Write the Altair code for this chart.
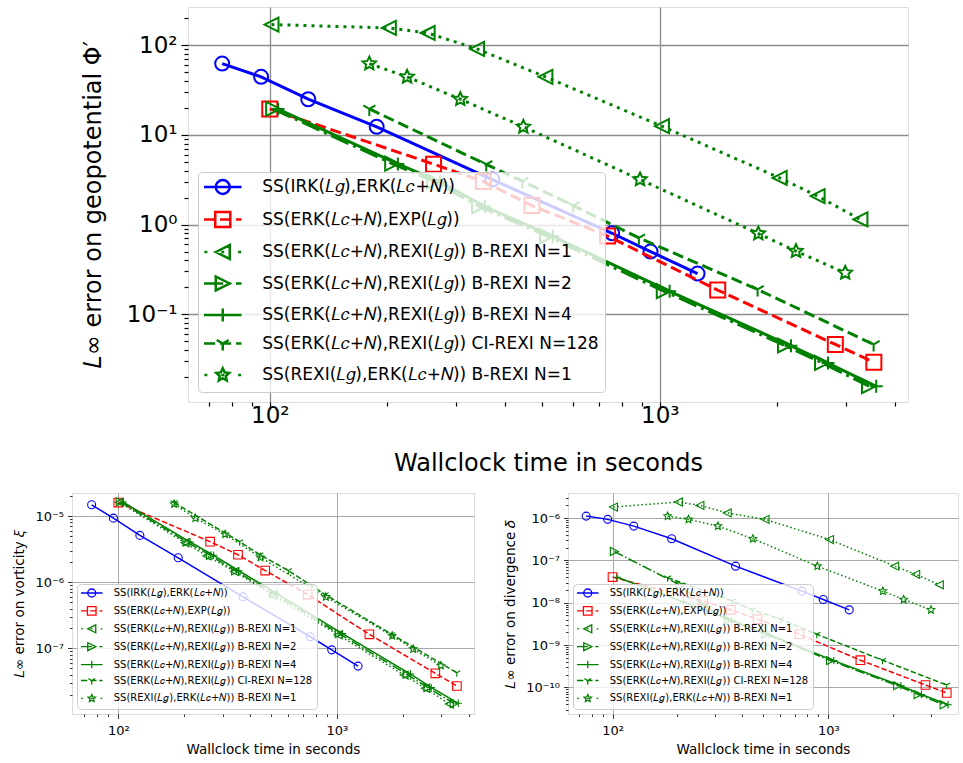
import math
import altair as alt
import pandas as pd

# ---------------- data ----------------
SERIES = [
    "SS(IRK(𝐿𝑔),ERK(𝐿𝑐+𝑁))",
    "SS(ERK(𝐿𝑐+𝑁),EXP(𝐿𝑔))",
    "SS(ERK(𝐿𝑐+𝑁),REXI(𝐿𝑔)) B-REXI N=1",
    "SS(ERK(𝐿𝑐+𝑁),REXI(𝐿𝑔)) B-REXI N=2",
    "SS(ERK(𝐿𝑐+𝑁),REXI(𝐿𝑔)) B-REXI N=4",
    "SS(ERK(𝐿𝑐+𝑁),REXI(𝐿𝑔)) CI-REXI N=128",
    "SS(REXI(𝐿𝑔),ERK(𝐿𝑐+𝑁)) B-REXI N=1",
]

# wallclock times (s)
T_IRK = [75.5, 95, 125.5, 188, 372, 755, 947, 1250]
T_EXP = [100, 263, 353, 470, 735, 1408, 2820, 3540]
T_N1 = [101, 202, 254, 340, 509, 1013, 2030, 2540, 3270]
T_N2 = [102, 206, 264, 344, 514, 1024, 2095, 2607, 3440]
T_N4 = [105, 213, 273, 356, 532, 1060, 2170, 2700, 3590]
T_CI = [180, 359, 444, 600, 884, 1782, 3535]
T_REXI = [180, 225, 308, 447, 890, 1790, 2235, 2990]

# geopotential errors
PHI_IRK = [62.4, 44.4, 25.0, 12.3, 3.18, 0.80, 0.50, 0.284]
PHI_EXP = [19.5, 4.72, 3.02, 1.63, 0.745, 0.186, 0.046, 0.0292]
PHI_N1 = [170, 156, 137, 91, 44.4, 12.5, 3.31, 2.08, 1.14]
PHI_N2 = [19.5, 4.79, 3.02, 1.60, 0.743, 0.181, 0.0448, 0.0287, 0.0158]
PHI_N4 = [19.4, 4.75, 3.0, 1.59, 0.74, 0.180, 0.0445, 0.0285, 0.0157]
PHI_CI = [19.5, 4.68, 3.05, 1.63, 0.711, 0.189, 0.046]
PHI_REXI = [62.4, 44.4, 25.0, 12.3, 3.18, 0.794, 0.505, 0.289]

# vorticity errors
VOR_IRK = [1.48e-5, 9.3e-6, 5.1e-6, 2.34e-6, 6.0e-7, 1.5e-7, 9.5e-8, 5.4e-8]
VOR_EXP = [1.6e-5, 4.1e-6, 2.6e-6, 1.5e-6, 6.5e-7, 1.63e-7, 4.2e-8, 2.7e-8]
VOR_N1 = [1.62e-5, 3.95e-6, 2.5e-6, 1.45e-6, 6.4e-7, 1.6e-7, 3.95e-8, 2.5e-8, 1.44e-8]
VOR_N2 = [1.64e-5, 4.05e-6, 2.54e-6, 1.48e-6, 6.7e-7, 1.67e-7, 4.06e-8, 2.55e-8, 1.47e-8]
VOR_N4 = [1.63e-5, 4.05e-6, 2.55e-6, 1.49e-6, 6.7e-7, 1.67e-7, 4.1e-8, 2.57e-8, 1.48e-8]
VOR_CI = [1.6e-5, 4.1e-6, 2.6e-6, 1.5e-6, 6.5e-7, 1.63e-7, 4.3e-8]
VOR_REXI = [1.52e-5, 9.3e-6, 5.3e-6, 2.37e-6, 6.0e-7, 1.55e-7, 9.8e-8, 5.5e-8]

# divergence errors
DIV_IRK = [1.11e-6, 9.3e-7, 6.45e-7, 3.24e-7, 7.3e-8, 1.88e-8, 1.19e-8, 6.8e-9]
DIV_EXP = [4.03e-8, 1.1e-8, 6.8e-9, 4.1e-9, 1.8e-9, 4.4e-10, 1.14e-10, 7.4e-11]
DIV_N1 = [1.82e-6, 2.39e-6, 1.99e-6, 1.32e-6, 9.3e-7, 3.1e-7, 7.3e-8, 4.7e-8, 2.65e-8]
DIV_N2 = [1.62e-7, 2.6e-8, 8.5e-9, 3.9e-9, 1.8e-9, 4.3e-10, 1.1e-10, 6.8e-11, 3.9e-11]
DIV_N4 = [4.0e-8, 1.05e-8, 6.5e-9, 3.8e-9, 1.75e-9, 4.3e-10, 1.1e-10, 6.8e-11, 3.9e-11]
DIV_CI = [3.9e-8, 1.1e-8, 6.8e-9, 4.1e-9, 1.8e-9, 4.4e-10, 1.14e-10]
DIV_REXI = [1.11e-6, 9.3e-7, 6.45e-7, 3.24e-7, 7.3e-8, 1.88e-8, 1.19e-8, 6.8e-9]

TIMES = [T_IRK, T_EXP, T_N1, T_N2, T_N4, T_CI, T_REXI]
PHI = [PHI_IRK, PHI_EXP, PHI_N1, PHI_N2, PHI_N4, PHI_CI, PHI_REXI]
VOR = [VOR_IRK, VOR_EXP, VOR_N1, VOR_N2, VOR_N4, VOR_CI, VOR_REXI]
DIV = [DIV_IRK, DIV_EXP, DIV_N1, DIV_N2, DIV_N4, DIV_CI, DIV_REXI]

# ---------------- styles ----------------
COLORS = ["#0000ff", "#ff0000", "#008000", "#008000", "#008000", "#008000", "#008000"]
LINESTYLE = ["solid", "dashed", "dotted", "dashdot", "solid", "dashed", "dotted"]


def star_path(R, r):
    pts = []
    for k in range(10):
        a = -math.pi / 2 + k * math.pi / 5
        rad = R if k % 2 == 0 else r
        pts.append((rad * math.cos(a), rad * math.sin(a)))
    return "M" + "L".join(f"{x:.3f},{y:.3f}" for x, y in pts) + "Z"


MARKERS = [
    "circle",
    "M-1,-1H1V1H-1Z",
    "M-1,0L1,-1L1,1Z",
    "M1,0L-1,-1L-1,1Z",
    "M-1,0H1M0,-1V1",
    "M0,0V1M0,0L-0.866,-0.5M0,0L0.866,-0.5",
    star_path(1.0, 0.48),
]
MSIZE_REL = [1.0, 1.15, 1.0, 1.0, 0.86, 1.0, 1.0]

m = 0.93
LEG_MARK = [
    f"M{m},0A{m},{m} 0 1,1 -{m},0A{m},{m} 0 1,1 {m},0Z",
    "M-1,-1H1V1H-1Z",
    f"M-{m},0L{m},-{m}L{m},{m}Z",
    f"M{m},0L-{m},-{m}L-{m},{m}Z",
    "M-0.87,0H0.87M0,-0.87V0.87",
    "M0,0V0.93M0,0L-0.8,-0.47M0,0L0.8,-0.47",
    star_path(0.9, 0.43),
]
LEG_LINE = {
    "solid": "M-2.5,0H2.5",
    "dashed": "M-2.5,0H-1.03M-0.36,0H1.11M1.78,0H2.5",
    "dotted": "M-2.45,0H-2.05M-0.2,0H0.2M2.05,0H2.45",
    "dashdot": "M-2.5,0H0.03M0.7,0H1.1M1.77,0H2.5",
}
LEG_PATHS = [LEG_LINE[LINESTYLE[i]] + LEG_MARK[i] for i in range(7)]

SUP = {"-": "⁻", "0": "⁰", "1": "¹", "2": "²", "3": "³", "4": "⁴",
       "5": "⁵", "6": "⁶", "7": "⁷", "8": "⁸", "9": "⁹"}


def label_expr(exps):
    e = "round(log(datum.value)/LN10)"
    parts = [f"{e} == {k} ? '10{''.join(SUP[c] for c in str(k))}'" for k in exps]
    return " : ".join(parts) + " : ''"


def minors(lo, hi):
    out = []
    for j in range(-12, 5):
        for k in range(2, 10):
            v = k * 10.0 ** j
            if lo <= v <= hi:
                out.append(float(f"{v:.3g}"))
    return out


def majors(lo, hi):
    return [j for j in range(-12, 5) if lo <= 10.0 ** j <= hi]


def panel(E, xdom, ydom, W, H, st):
    xs = alt.Scale(type="log", domain=xdom, nice=False)
    ys = alt.Scale(type="log", domain=ydom, nice=False)
    xmaj = majors(*xdom)
    ymaj = majors(*ydom)
    base = pd.DataFrame({"t": T_IRK, "e": E[0]})
    common = dict(labelFont="DejaVu Sans", labelColor="black", tickColor="black",
                  tickWidth=st["tw"], domain=False, labelFlush=False, labelOverlap=False,
                  titleFont="DejaVu Sans", titleColor="black", titleFontWeight="normal")
    major = alt.Chart(base).mark_point(opacity=0).encode(
        x=alt.X("t:Q", scale=xs, axis=alt.Axis(
            orient="bottom", values=[10.0 ** k for k in xmaj], labelExpr=label_expr(xmaj),
            grid=True, gridColor=st["gc"], gridWidth=st["gw"], tickSize=st["tmaj"],
            labelFontSize=st["lfs"], labelPadding=st["xlp"], title="Wallclock time in seconds",
            titleFontSize=st["tfs"], titlePadding=st["xtp"], **common)),
        y=alt.Y("e:Q", scale=ys, axis=alt.Axis(
            orient="left", values=[10.0 ** k for k in ymaj], labelExpr=label_expr(ymaj),
            grid=True, gridColor=st["gc"], gridWidth=st["gw"], tickSize=st["tmaj"],
            labelFontSize=st["lfs"], labelPadding=st["lp"], title=st["ytitle"],
            titleFontSize=st["tfs"], titlePadding=st["ytp"], **common)),
    )
    minor = alt.Chart(base).mark_point(opacity=0).encode(
        x=alt.X("t:Q", scale=xs, axis=alt.Axis(
            orient="bottom", values=minors(*xdom), labels=False, grid=False,
            tickSize=st["tmin"], title=None, **common)),
        y=alt.Y("e:Q", scale=ys, axis=alt.Axis(
            orient="left", values=minors(*ydom), labels=False, grid=False,
            tickSize=st["tmin"], title=None, **common)),
    )
    layers = [major, minor]
    rows = []
    for i in range(7):
        df = pd.DataFrame({"t": TIMES[i], "e": E[i], "series": SERIES[i]})
        rows.append(df)
        enc = dict(x=alt.X("t:Q", scale=xs, axis=None), y=alt.Y("e:Q", scale=ys, axis=None))
        lkw = dict(color=COLORS[i], strokeWidth=st["lw"], clip=True)
        if LINESTYLE[i] != "solid":
            lkw["strokeDash"] = st["dash"][LINESTYLE[i]]
        layers.append(alt.Chart(df).mark_line(**lkw).encode(**enc))
        layers.append(alt.Chart(df).mark_point(
            shape=MARKERS[i], filled=False, opacity=1, color=COLORS[i],
            size=st["ms"] * MSIZE_REL[i], strokeWidth=st["mw"], clip=True).encode(**enc))
    alldf = pd.concat(rows, ignore_index=True)
    leg = alt.Legend(
        title=None, orient="bottom-left", offset=st["loff"],
        fillColor="rgba(255,255,255,0.8)", strokeColor="#cccccc", cornerRadius=4,
        padding=st["lpad"], labelFont="DejaVu Sans", labelFontSize=st["lgfs"],
        labelColor="black", labelLimit=0, labelOffset=st["lgoff"],
        symbolOffset=st["symoff"], symbolSize=st["symsize"],
        symbolStrokeWidth=st["symsw"], rowPadding=st["rowpad"], zindex=2)
    legend_layer = alt.Chart(alldf).mark_point(opacity=0, filled=False,
                                                strokeWidth=st["symsw"]).encode(
        x=alt.X("t:Q", scale=xs, axis=None),
        y=alt.Y("e:Q", scale=ys, axis=None),
        color=alt.Color("series:N", scale=alt.Scale(domain=SERIES, range=COLORS), legend=leg),
        shape=alt.Shape("series:N", scale=alt.Scale(domain=SERIES, range=LEG_PATHS), legend=leg),
    )
    layers.append(legend_layer)
    return alt.layer(*layers).properties(width=W, height=H).resolve_axis(
        x="independent", y="independent")


TOP = dict(tw=1.2, gc="#8c8c8c", gw=1.3, tmaj=7, tmin=4, lfs=23, lp=4, xlp=-5, tfs=24,
           xtp=24, ytp=21, ytitle="𝐿∞ error on geopotential Φ′", lw=3, mw=2, ms=196,
           dash={"dashed": [11, 5], "dotted": [3, 5], "dashdot": [19, 5, 3, 5]},
           loff=10, lpad=6, lgfs=17, lgoff=30.5, symoff=9.75, symsize=225, symsw=2.5,
           rowpad=7.5)
BOT = dict(tw=0.8, gc="#a8a8a8", gw=1, tmaj=4.5, tmin=2.5, lfs=13, lp=4, xlp=6, tfs=13.5,
           xtp=5, ytp=8, ytitle="", lw=1.5, mw=1.1, ms=64,
           dash={"dashed": [5.5, 2.4], "dotted": [1.5, 2.5], "dashdot": [9.6, 2.4, 1.5, 2.4]},
           loff=5, lpad=4, lgfs=10, lgoff=17, symoff=5.75, symsize=74, symsw=1.3,
           rowpad=3.9)

top = panel(PHI, [61.7, 4331], [0.0105, 267], 720, 395, TOP)
vort = panel(VOR, [61.4, 4238], [1.02e-8, 2.23e-5], 402, 221,
             dict(BOT, ytitle="𝐿∞ error on vorticity 𝜉"))
div = panel(DIV, [62.2, 3990], [2.36e-11, 3.9e-6], 390, 221,
            dict(BOT, ytitle="𝐿∞ error on divergence 𝛿"))

spacer = alt.Chart(pd.DataFrame({"t": [1]})).mark_point(opacity=0).encode(
    x=alt.X("t:Q", axis=None), y=alt.Y("t:Q", axis=None)
).properties(width=5, height=10, view=alt.ViewBackground(stroke=None))

top_row = alt.hconcat(spacer, top, spacing=0).resolve_scale(color="independent", shape="independent")
bot_row = alt.hconcat(vort, div, spacing=28).resolve_scale(color="independent", shape="independent")

chart = alt.vconcat(top_row, bot_row, spacing=16).resolve_scale(
    color="independent", shape="independent"
).properties(
    padding={"left": 12, "top": 4, "right": 0, "bottom": 0},
    background="white",
).configure_view(stroke="black", strokeWidth=1.2).configure(font="DejaVu Sans")

chart.save("out.html", embed_options={"renderer": "svg", "actions": False})
